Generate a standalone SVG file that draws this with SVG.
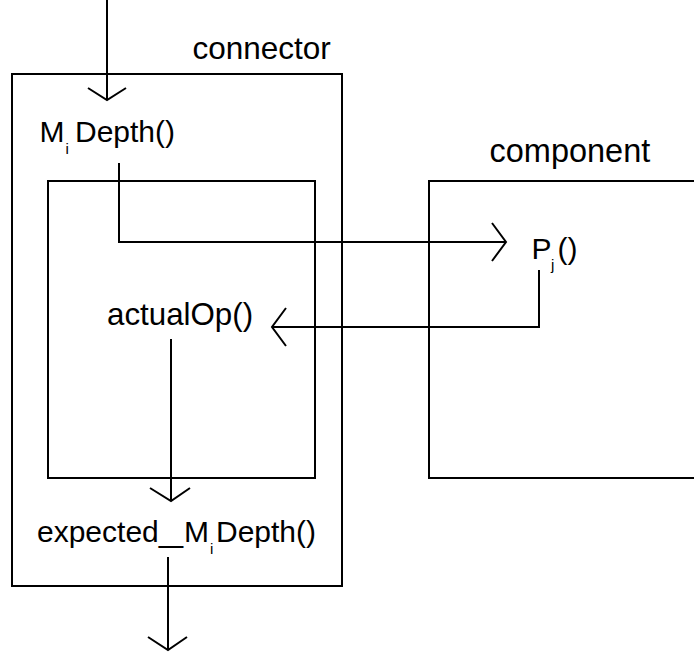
<svg xmlns="http://www.w3.org/2000/svg" width="694" height="654" viewBox="0 0 694 654">
<style>
.box{fill:none;stroke:#000;stroke-width:2}
.ln{fill:none;stroke:#000;stroke-width:2}
text{font-family:"Liberation Sans",Arial,sans-serif;font-size:30px;fill:#000}
.sub{font-size:15px}
</style>
<rect width="694" height="654" fill="#fff"/>
<g id="connector">
<rect class="box" x="12" y="74" width="330" height="512"/>
<text x="192.5" y="59" style="font-size:31.5px">connector</text>
</g>
<g id="inner">
<rect class="box" x="48" y="181" width="267" height="297"/>
</g>
<g id="component">
<rect class="box" x="429" y="181" width="280" height="297"/>
<text x="489.5" y="162" style="font-size:32.5px">component</text>
</g>
<g id="midepth">
<text x="39.5" y="142">M</text>
<text class="sub" x="65.5" y="154">i</text>
<text x="75" y="142">Depth()</text>
</g>
<g id="pj">
<text x="531.5" y="259">P</text>
<text class="sub" x="551" y="270">j</text>
<text x="557.5" y="259">()</text>
</g>
<g id="actualop">
<text x="107" y="325" style="font-size:31.3px">actualOp()</text>
</g>
<g id="expected">
<text x="37" y="542">expected</text>
<text x="159" y="542" textLength="24" lengthAdjust="spacingAndGlyphs">_</text>
<text x="184" y="542">M</text>
<text class="sub" x="210" y="554">i</text>
<text x="216" y="542">Depth()</text>
</g>
<g id="connectors">
<path class="ln" d="M107 0V100M88 88L107 100L126 88"/>
<path class="ln" d="M119 163V242H506M492 223L506 242L492 261"/>
<path class="ln" d="M539 270V327H272M286 308L272 327L286 346"/>
<path class="ln" d="M171 339V501M150 488L171 501L190 488"/>
<path class="ln" d="M168 557V650M148 637L168 650L187 637"/>
</g>
</svg>
